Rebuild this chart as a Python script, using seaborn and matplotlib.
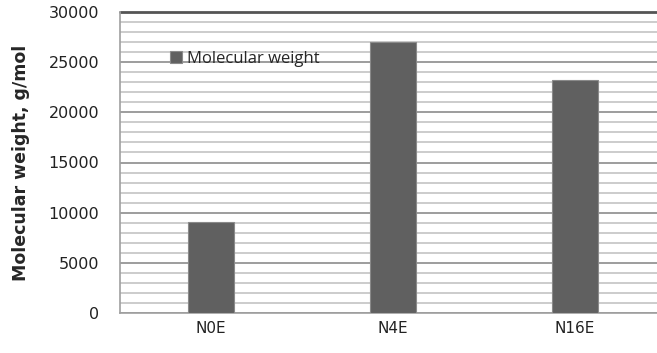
import matplotlib
matplotlib.use('Agg')
import matplotlib.pyplot as plt
import seaborn as sns
import pandas as pd
from matplotlib.ticker import MultipleLocator

samples = ["N0E", "N4E", "N16E"]
mol_weight = [9100, 27000, 23200]
series_name = "Molecular weight"

df = pd.DataFrame({"sample": samples, "mw": mol_weight})

sns.set_style("white")
plt.rcParams['font.family'] = ['DejaVu Sans']

fig = plt.figure(figsize=[6.57, 3.53], dpi=100)
ax = fig.add_axes([120 / 657, 40 / 353, 546 / 657, 301 / 353])

sns.barplot(data=df, x="sample", y="mw", color='#606060', saturation=1,
            width=0.25, ax=ax, label=series_name, zorder=3,
            edgecolor='#8a8a8a', linewidth=0.8)

ax.set_ylim(0, 30000)
ax.set_xlim(-0.5, 2.5)
ax.yaxis.set_major_locator(MultipleLocator(5000))
ax.yaxis.set_minor_locator(MultipleLocator(1000))
ax.grid(axis='y', which='minor', color='#c4c4c4', linewidth=1.2, zorder=0)
ax.grid(axis='y', which='major', color='#8c8c8c', linewidth=1.2, zorder=0)
ax.axhline(30000, color='#555555', linewidth=2, zorder=1, clip_on=False)

for s in ['top', 'right']:
    ax.spines[s].set_visible(False)
for s in ['left', 'bottom']:
    ax.spines[s].set_color('#a0a0a0')
    ax.spines[s].set_linewidth(1.2)

ax.tick_params(axis='y', which='major', direction='out', length=5, width=1.2,
               color='#a0a0a0', pad=10, labelsize=11.5, labelcolor='#222222')
ax.tick_params(axis='y', which='minor', length=0)
ax.set_xticks([0.5, 1.5], minor=True)
ax.tick_params(axis='x', which='major', length=0, pad=6, labelsize=11,
               labelcolor='#222222')
ax.tick_params(axis='x', which='minor', direction='out', length=5, width=1.2,
               color='#a0a0a0')

ax.set_xlabel('')
ax.set_ylabel('Molecular weight, g/mol', fontsize=12.5, fontweight='bold',
              labelpad=13)

ax.legend(loc='upper left', bbox_to_anchor=(0.065, 0.92), frameon=False,
          handlelength=0.7, handleheight=0.7, handletextpad=0.3,
          prop={'family': 'Open Sans', 'size': 12})

fig.savefig('out.png', dpi=100)
